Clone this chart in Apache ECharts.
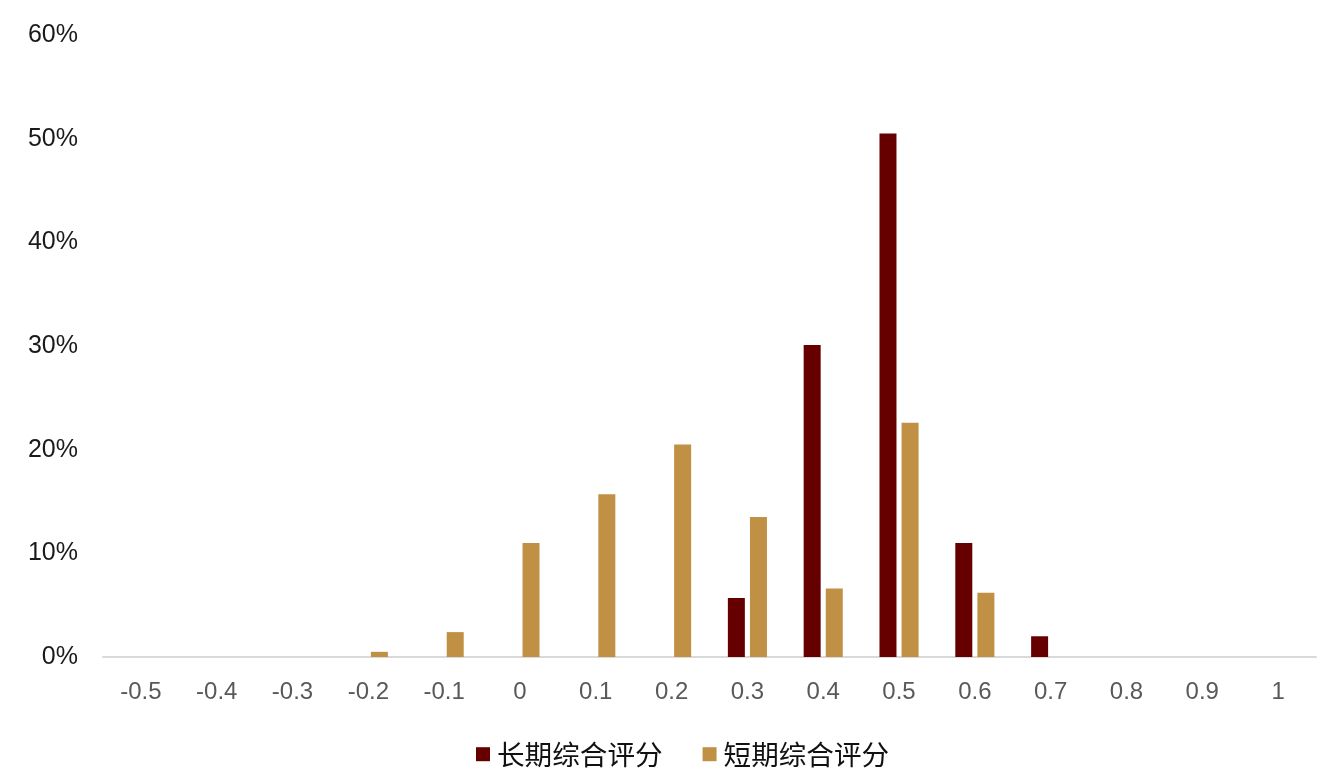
<!DOCTYPE html>
<html><head><meta charset="utf-8">
<script src="https://cdn.jsdelivr.net/npm/echarts@6/dist/echarts.min.js"></script>
<style>html,body{margin:0;padding:0;background:#fff}#c{width:1320px;height:780px}</style>
</head><body><div id="c"></div>
<script>
var categories = ['-0.5','-0.4','-0.3','-0.2','-0.1','0','0.1','0.2','0.3','0.4','0.5','0.6','0.7','0.8','0.9','1'];
var longScore = [0,0,0,0,0,0,0,0,5.7,30.1,50.5,11.0,2.0,0,0,0];
var shortScore = [0,0,0,0.5,2.4,11.0,15.7,20.5,13.5,6.6,22.6,6.2,0,0,0,0];
var yTicks = [0,10,20,30,40,50,60];
var seriesNames = ['长期综合评分','短期综合评分'];

var chart = echarts.init(document.getElementById('c'));
chart.setOption({
  animation:false,
  textStyle:{fontFamily:'Liberation Sans, Arial, "Noto Sans CJK SC", sans-serif'},
  grid:{left:103,right:4,top:35,bottom:123},
  legend:{bottom:7,left:471,itemWidth:14,itemHeight:14,itemGap:40,icon:'rect',
    textStyle:{fontSize:27.6,color:'#111',fontFamily:'"Noto Sans CJK SC", sans-serif',padding:[0,0,0,2]},
    data:seriesNames},
  xAxis:{type:'category',data:categories,
    axisLine:{lineStyle:{color:'#d9d9d9',width:2}},axisTick:{show:false},
    axisLabel:{fontSize:24,color:'#595959',margin:23}},
  yAxis:{type:'value',min:yTicks[0],max:yTicks[yTicks.length-1],interval:10,
    splitLine:{show:false},axisLine:{show:false},axisTick:{show:false},
    axisLabel:{fontSize:25,color:'#1a1a1a',margin:25,formatter:function(v){return v+'%';}}},
  series:[
    {name:seriesNames[0],type:'bar',data:longScore,barWidth:17,barGap:'30%',itemStyle:{color:'#660000'}},
    {name:seriesNames[1],type:'bar',data:shortScore,barWidth:17,itemStyle:{color:'#C09044'}}
  ]
});
</script></body></html>
